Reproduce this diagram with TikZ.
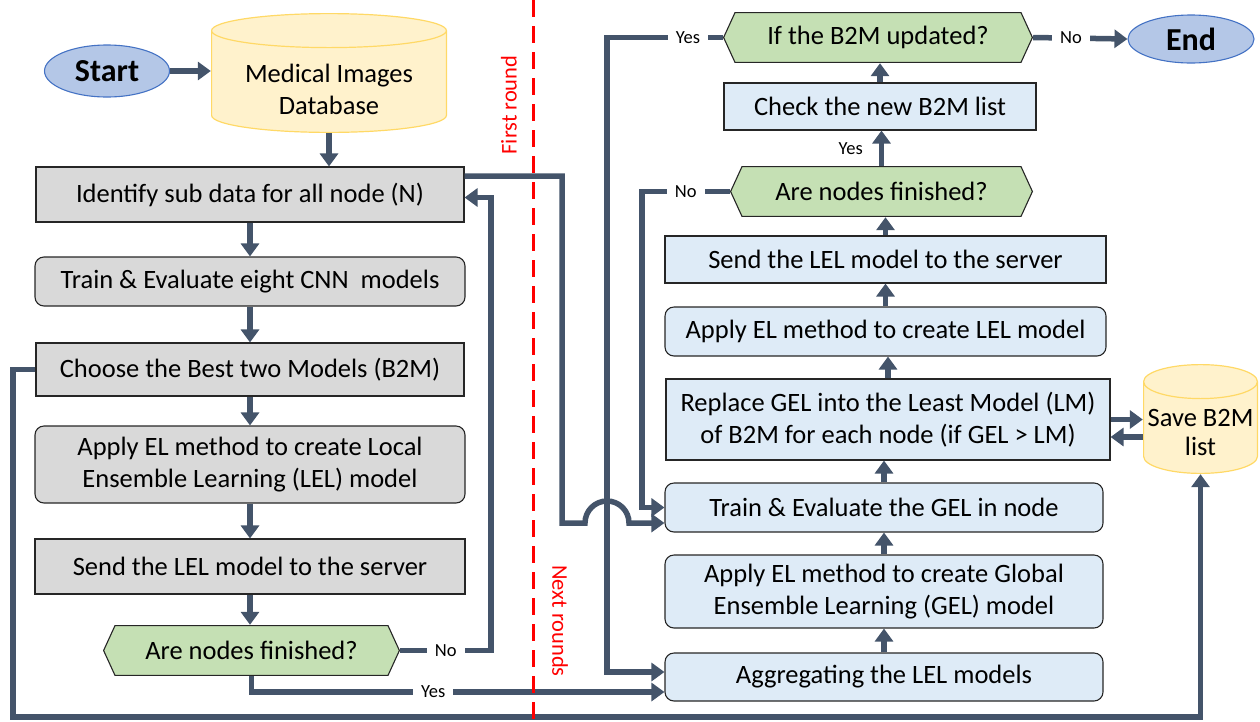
\documentclass[tikz,border=0pt]{standalone}
\usepackage{fontspec}
\setmainfont{Carlito}
\usetikzlibrary{arrows.meta,shapes.geometric,calc}
\definecolor{arrc}{HTML}{44546A}
\definecolor{grayfill}{HTML}{D9D9D9}
\definecolor{bluefill}{HTML}{DEEBF7}
\definecolor{greenfill}{HTML}{C5E0B4}
\definecolor{dbfill}{HTML}{FFF2CC}
\definecolor{dbline}{HTML}{FFD966}
\definecolor{termfill}{HTML}{B4C7E7}
\definecolor{termline}{HTML}{4472C4}
\definecolor{boxline}{HTML}{262626}
\begin{document}
\begin{tikzpicture}[x=1pt,y=-1pt,
  txt/.style={font=\fontsize{26.5}{32}\selectfont, align=center, inner sep=0pt},
  box/.style={txt, draw=boxline, line width=1.1pt, fill=#1},
  rbox/.style={box=#1, rounded corners=9pt},
  hexbox/.style={txt, path picture={
    \path[fill=greenfill, draw=boxline, line width=1.1pt]
      ([xshift=0.6pt]path picture bounding box.west)
      -- ([xshift=12pt,yshift=-0.6pt]path picture bounding box.north west)
      -- ([xshift=-12pt,yshift=-0.6pt]path picture bounding box.north east)
      -- ([xshift=-0.6pt]path picture bounding box.east)
      -- ([xshift=-12pt,yshift=0.6pt]path picture bounding box.south east)
      -- ([xshift=12pt,yshift=0.6pt]path picture bounding box.south west)
      -- cycle;}},
  cyl/.style={txt, path picture={
    \path[fill=dbfill, draw=dbline, line width=1.2pt]
      let \p1=(path picture bounding box.south west),
          \p2=(path picture bounding box.north east),
          \n1={0.5*\x2-0.5*\x1-0.6pt} in
      (\x1+0.6pt,\y2-17.6pt) -- (\x1+0.6pt,\y1+17.6pt)
      arc[start angle=180,end angle=360,x radius=\n1,y radius=17pt]
      -- (\x2-0.6pt,\y2-17.6pt)
      arc[start angle=0,end angle=180,x radius=\n1,y radius=17pt]
      -- cycle
      (\x1+0.6pt,\y2-17.6pt)
      arc[start angle=180,end angle=360,x radius=\n1,y radius=17pt];}},
  term/.style={ellipse, draw=termline, line width=1.1pt, fill=termfill, inner sep=0pt,
    font=\bfseries\fontsize{32}{36}\selectfont},
  conn/.style={draw=arrc, line width=5.5pt},
  arr/.style={conn, -{Triangle[length=13pt,width=18pt]}},
  lbl/.style={fill=white, inner xsep=8pt, inner ysep=3pt, font=\fontsize{18.5}{22}\selectfont},
  divider/.style={draw=red, line width=3pt, dash pattern=on 17pt off 9pt},
  rnd/.style={text=red, font=\fontsize{22.5}{26}\selectfont}]

\useasboundingbox (0,0) rectangle (1260,721);

% ---------- left column ----------
\node[term, minimum width=125pt, minimum height=52pt] (start) at (107,71) {Start};
\node[cyl, minimum width=236pt, minimum height=120pt] (db) at (329,73)
  {\raisebox{-25pt}[0pt][0pt]{\begin{tabular}{@{}c@{}}Medical Images\\Database\end{tabular}}};
\node[box=grayfill, minimum width=428pt, minimum height=55pt] (identify) at (250,194.5) {Identify sub data for all node (N)};
\node[rbox=grayfill, minimum width=430pt, minimum height=49pt] (train) at (250,281.5) {Train \& Evaluate eight CNN~ models};
\node[box=grayfill, minimum width=428pt, minimum height=53pt] (choose) at (250,369.5) {Choose the Best two Models (B2M)};
\node[rbox=grayfill, minimum width=430pt, minimum height=77pt] (applyL) at (250,464.5) {Apply EL method to create Local\\Ensemble Learning (LEL) model};
\node[box=grayfill, minimum width=430pt, minimum height=55pt] (sendL) at (250,566.5) {Send the LEL model to the server};
\node[hexbox, minimum width=297pt, minimum height=51pt] (decL) at (251.5,650.5) {Are nodes finished?};

% ---------- right column ----------
\node[hexbox, minimum width=310pt, minimum height=51pt] (ifupd) at (878,37.5) {If the B2M updated?};
\node[term, minimum width=126pt, minimum height=48pt] (end) at (1191,39) {End};
\node[box=bluefill, minimum width=312pt, minimum height=47pt] (check) at (880,106.5) {Check the new B2M list};
\node[hexbox, minimum width=303pt, minimum height=51pt] (decR) at (881.5,191.5) {Are nodes finished?};
\node[box=bluefill, minimum width=441pt, minimum height=47pt] (sendR) at (885.5,259.5) {Send the LEL model to the server};
\node[rbox=bluefill, minimum width=441pt, minimum height=49pt] (applyR) at (885.5,331.5) {Apply EL method to create LEL model};
\node[box=bluefill, minimum width=444pt, minimum height=81pt] (replace) at (888,419.5) {Replace GEL into the Least Model (LM)\\of B2M for each node (if GEL > LM)};
\node[rbox=bluefill, minimum width=438pt, minimum height=49pt] (trainR) at (884,507.5) {Train \& Evaluate the GEL in node};
\node[rbox=bluefill, minimum width=438pt, minimum height=73pt] (applyG) at (884,591.5) {Apply EL method to create Global\\Ensemble Learning (GEL) model};
\node[rbox=bluefill, minimum width=438pt, minimum height=48pt] (agg) at (884,677) {Aggregating the LEL models};
\node[cyl, minimum width=115pt, minimum height=110pt] (save) at (1200.5,419)
  {\raisebox{-22pt}[0pt][0pt]{\begin{tabular}{@{}c@{}}Save B2M\\[-3pt]list\end{tabular}}};

% ---------- connectors: left ----------
\draw[arr] (start.east) -- (start.east -| db.west);
\draw[arr] (db.south) -- (db.south |- identify.north);
\draw[arr] (identify.south) -- (identify.south |- train.north);
\draw[arr] (train.south) -- (train.south |- choose.north);
\draw[arr] (choose.south) -- (choose.south |- applyL.north);
\draw[arr] (applyL.south) -- (applyL.south |- sendL.north);
\draw[arr] (sendL.south) -- (sendL.south |- decL.north);
\draw[arr] (decL.east) -- node[lbl]{No} ++(91,0) |- ([yshift=-3pt]identify.east);
\draw[arr] (decL.south) |- node[lbl,pos=0.72]{Yes} ([yshift=-15pt]agg.west);
\draw[arr] ([yshift=18.5pt]identify.east) -| (562,523) -- (585,523)
  arc[start angle=180,end angle=0,radius=22pt] -- ([yshift=-15.5pt]trainR.west);
\draw[arr] (choose.west) -| (13,717) -| (save.south);

% ---------- connectors: right ----------
\draw[arr] (agg.north) -- (agg.north |- applyG.south);
\draw[arr] (applyG.north) -- (applyG.north |- trainR.south);
\draw[arr] (trainR.north) -- (trainR.north |- replace.south);
\draw[arr] (replace.north) -- (replace.north |- applyR.south);
\draw[arr] (applyR.north) -- (applyR.north |- sendR.south);
\draw[arr] (sendR.north) -- (sendR.north |- decR.south);
\draw[arr] (decR.north) -- node[lbl,left=8pt,fill=none]{Yes} (decR.north |- check.south);
\draw[arr] (check.north) -- (check.north |- ifupd.south);
\draw[arr] (ifupd.east) -- node[lbl,pos=0.4]{No} (end.west);
\draw[arr] (ifupd.west) -- node[lbl,pos=0.3]{Yes} ++(-116,0) |- ([yshift=5pt]agg.west);
\draw[arr] (decR.west) -- node[lbl]{No} ++(-88,0) |- (trainR.west);
\draw[arr] (replace.east) -- (replace.east -| save.west);
\draw[arr] ([yshift=-18pt]save.west) -- ([yshift=-18pt]save.west -| replace.east);

% ---------- divider ----------
\draw[divider] (533,0) -- (533,721);
\node[rnd, rotate=90] (first) at (509,105) {First round};
\node[rnd, rotate=-90] (next) at (560,621) {Next rounds};
\end{tikzpicture}
\end{document}
